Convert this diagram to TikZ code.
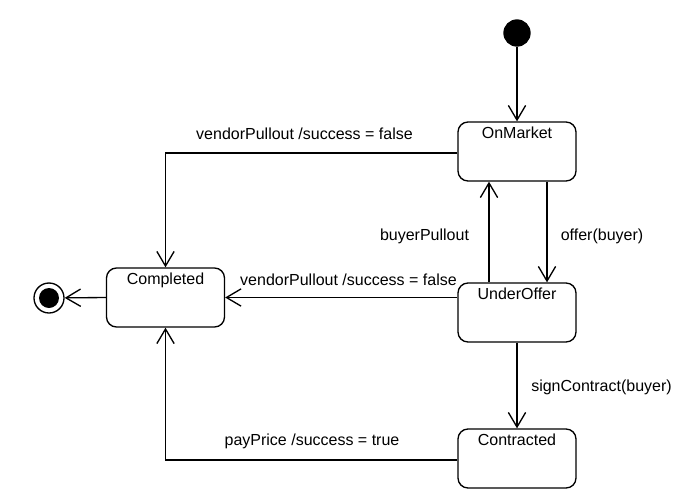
\documentclass[tikz,border=0pt]{standalone}
\usepackage{fontspec}
\setmainfont{Liberation Sans}
\usetikzlibrary{arrows.meta}
\tikzset{
  state/.style={draw, line width=1pt, rounded corners=7.5pt, minimum width=88.5pt, minimum height=44.25pt, inner sep=0pt},
  statename/.style={anchor=north, inner sep=0pt, yshift=-4pt},
  trans/.style={draw, line width=1pt, -{Straight Barb[length=11pt,width=13pt,line width=1pt]}},
  lbl/.style={inner sep=0pt, font=\fontsize{12pt}{14pt}\selectfont},
}
\begin{document}
\begin{tikzpicture}[x=0.75pt, y=-0.75pt, font=\fontsize{12pt}{14pt}\selectfont]
\useasboundingbox (0,0) rectangle (692,493);
% states
\node[state, label={[statename]north:OnMarket}] (om) at (517,151.5) {};
\node[state, label={[statename]north:UnderOffer}] (uo) at (517,312.5) {};
\node[state, label={[statename]north:Contracted}] (ct) at (517,458.5) {};
\node[state, label={[statename]north:Completed}] (comp) at (165.5,297.5) {};
% pseudo states
\node[circle, fill=black, minimum size=20.5pt, inner sep=0pt] (init) at (517,33) {};
\node[circle, draw, line width=1pt, minimum size=22.5pt, inner sep=0pt] (fin) at (49,298) {};
\node[circle, fill=black, minimum size=15pt, inner sep=0pt] (fincore) at (49,298) {};
% transitions
\draw[trans] (init) -- (om.north);
\draw[trans] (om.west |- 0,153) -| (comp.north);
\draw[trans] (uo.west |- comp.east) -- (comp.east);
\draw[trans] ([xshift=-21pt]uo.north) -- ([xshift=-21pt]om.south);
\draw[trans] ([xshift=22.5pt]om.south) -- ([xshift=22.5pt]uo.north);
\draw[trans] (uo.south) -- (ct.north);
\draw[trans] (ct.west |- 0,460) -| (comp.south);
\draw[trans] (comp.west) -- (fin);
% labels
\node[lbl] (l1) at (304.5,134) {vendorPullout /success = false};
\node[lbl] (l2) at (348.5,280) {vendorPullout /success = false};
\node[lbl] (l3) at (424.5,236) {buyerPullout};
\node[lbl] (l4) at (602,236) {offer(buyer)};
\node[lbl] (l5) at (601.5,387) {signContract(buyer)};
\node[lbl] (l6) at (312,441) {payPrice /success = true};
\end{tikzpicture}
\end{document}
